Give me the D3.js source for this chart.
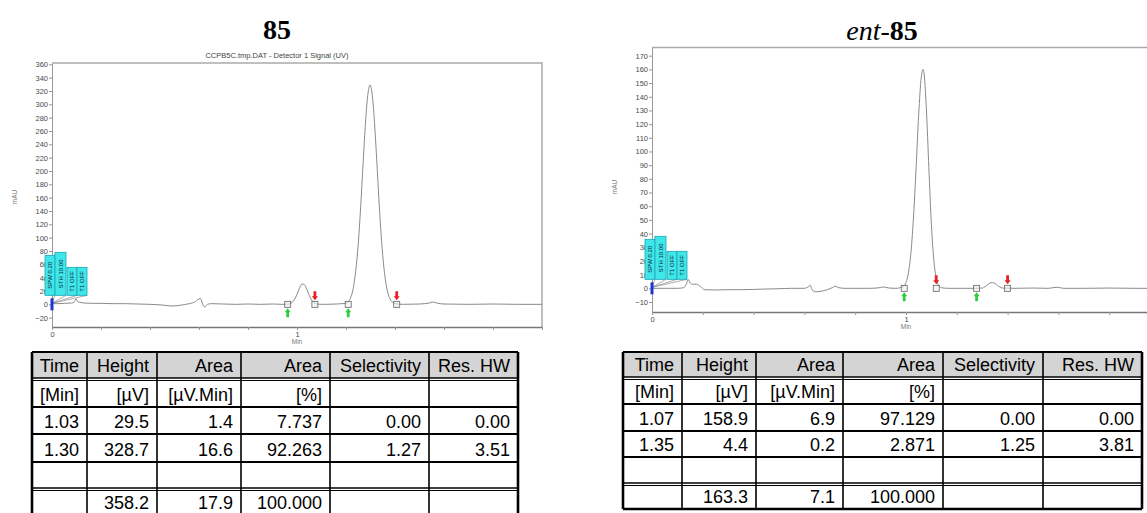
<!DOCTYPE html>
<html>
<head>
<meta charset="utf-8">
<script src="https://cdn.jsdelivr.net/npm/d3@7"></script>
<style>
  body { margin: 0; background: #fff; }
  svg { display: block; }
</style>
</head>
<body>
<div id="page"></div>
<script>
// traces: [time (min), signal (mAU)]
const trace85 = [
  [0, 1], [0.02, 1], [0.05, 1.5], [0.08, 2], [0.09, 3], [0.098, 8.5], [0.105, 4], [0.114, 3],
  [0.13, 2], [0.16, 1.5], [0.2, 1.5], [0.25, 1], [0.3, 1], [0.35, 0.5], [0.4, 0], [0.45, -1],
  [0.49, -2.5], [0.53, -1], [0.56, 1], [0.585, 4], [0.595, 7], [0.607, 8.5], [0.615, 0],
  [0.622, -4], [0.635, 0], [0.65, 1], [0.7, 0.5], [0.75, 0], [0.8, 0.5], [0.85, 0], [0.9, 0.5],
  [0.94, 0], [0.96, 0.2], [0.97, 0.8], [0.98, 2.8], [0.99, 7.3], [1.00, 15], [1.01, 24],
  [1.02, 30.4], [1.03, 29.6], [1.04, 22.5], [1.05, 13.3], [1.06, 6.1], [1.07, 2.2], [1.08, 0.6],
  [1.09, 0.1], [1.12, 0], [1.16, 0.5], [1.20, 1.6], [1.22, 11], [1.23, 25], [1.24, 51],
  [1.25, 91], [1.26, 147], [1.27, 213], [1.28, 275], [1.29, 317], [1.298, 329], [1.31, 304],
  [1.32, 251], [1.33, 186], [1.34, 123], [1.35, 73], [1.36, 39], [1.37, 18.5], [1.38, 8],
  [1.39, 3], [1.40, 1], [1.43, 0], [1.5, 0.5], [1.54, 2], [1.555, 3.5], [1.57, 2], [1.6, 0.5],
  [1.7, 0], [1.8, 0.5], [1.9, 0], [2.0, 0]
];
const traceEnt85 = [
  [0, 0], [0.05, 0], [0.1, 0], [0.125, 0.5], [0.135, 3], [0.143, 6.4], [0.15, 4], [0.16, 3],
  [0.175, 3], [0.19, 1.5], [0.206, -1], [0.25, -1.2], [0.3, -1], [0.35, -1], [0.4, -0.8],
  [0.45, -0.5], [0.5, -0.3], [0.55, 0], [0.6, 0], [0.615, 1], [0.623, 2.2], [0.63, -1],
  [0.645, -2.5], [0.67, -2], [0.69, -1], [0.71, 0.5], [0.722, 1.5], [0.735, 0.5], [0.76, 0],
  [0.8, 0], [0.85, 0], [0.89, 0.3], [0.912, 1], [0.93, 0.3], [0.96, 0], [0.99, 1.4], [1.00, 4.4],
  [1.01, 11.9], [1.02, 27.3], [1.03, 53.5], [1.04, 89], [1.05, 127], [1.06, 154], [1.067, 160],
  [1.07, 158.4], [1.08, 132], [1.09, 88], [1.10, 46.6], [1.11, 19.7], [1.12, 6.6], [1.13, 1.8],
  [1.14, 0.4], [1.17, 0], [1.22, 0], [1.27, 0], [1.30, 0.2], [1.31, 1], [1.32, 2.5], [1.33, 3.8],
  [1.34, 4.2], [1.35, 3.6], [1.36, 2.2], [1.37, 0.9], [1.38, 0.2], [1.42, 0], [1.5, 0.2],
  [1.56, 0], [1.594, 0.8], [1.62, 0], [1.7, 0], [1.8, 0.2], [1.9, 0], [2.0, 0]
];

// integration start / end marks (min)
const starts85 = [0.962, 1.209];
const ends85 = [1.073, 1.407];
const startsEnt85 = [0.993, 1.278];
const endsEnt85 = [1.119, 1.400];

const yTicks85 = [-20, 0, 20, 40, 60, 80, 100, 120, 140, 160, 180, 200, 220, 240, 260, 280, 300, 320, 340, 360];
const yTicksEnt85 = [-10, 0, 10, 20, 30, 40, 50, 60, 70, 80, 90, 100, 110, 120, 130, 140, 150, 160, 170];
const xTicks = [0, 0.2, 0.4, 0.6, 0.8, 1, 1.2, 1.4, 1.6, 1.8, 2];
const xLabels = [0, 1];
const eventLabels = ["SPW 0.20", "STH 10.00", "T1 OFF", "T1 OFF"];

// peak tables
const headers = ["Time", "Height", "Area", "Area", "Selectivity", "Res. HW"];
const units = ["[Min]", "[µV]", "[µV.Min]", "[%]", "", ""];
const rows85 = [
  ["1.03", "29.5", "1.4", "7.737", "0.00", "0.00"],
  ["1.30", "328.7", "16.6", "92.263", "1.27", "3.51"]
];
const total85 = ["", "358.2", "17.9", "100.000", "", ""];
const rowsEnt85 = [
  ["1.07", "158.9", "6.9", "97.129", "0.00", "0.00"],
  ["1.35", "4.4", "0.2", "2.871", "1.25", "3.81"]
];
const totalEnt85 = ["", "163.3", "7.1", "100.000", "", ""];

const sans = "'Liberation Sans', Arial, sans-serif";
const serif = "'Liberation Serif', 'Times New Roman', serif";

const svg = d3.select("#page").append("svg").attr("width", 1147).attr("height", 513);

function chromatogram(cfg) {
  const x = d3.scaleLinear().domain([0, 2]).range([cfg.left, cfg.right]);
  const y = d3.scaleLinear().domain(cfg.yDomain).range([cfg.bottom, cfg.top]);
  const g = svg.append("g");

  g.append("path")
      .attr("d", `M${cfg.left},${cfg.top}H${cfg.right}V${cfg.bottom}`)
      .attr("fill", "none").attr("stroke", "#aaa").attr("stroke-width", 1.5);

  const yAxis = g.append("g").attr("transform", `translate(${cfg.left},0)`)
      .call(d3.axisLeft(y).tickValues(cfg.yTicks).tickSize(3).tickPadding(1).tickSizeOuter(0))
      .attr("font-size", 7.5).attr("font-family", sans);
  yAxis.select(".domain").attr("stroke", "#999");
  yAxis.selectAll(".tick line").attr("stroke", "#999");
  yAxis.selectAll(".tick text").attr("fill", "#4a4a4a");

  const xAxis = g.append("g").attr("transform", `translate(0,${cfg.bottom})`)
      .call(d3.axisBottom(x).tickValues(xTicks).tickSize(3).tickPadding(2).tickSizeOuter(0)
        .tickFormat(d => xLabels.includes(d) ? d : ""))
      .attr("font-size", 7.5).attr("font-family", sans);
  xAxis.select(".domain").attr("stroke", "#777").attr("stroke-width", 1.3);
  xAxis.selectAll(".tick line").attr("stroke", "#999");
  xAxis.selectAll(".tick text").attr("fill", "#4a4a4a");

  g.append("text").attr("x", x(1)).attr("y", cfg.bottom + 17)
      .attr("text-anchor", "middle").attr("font-size", 6.5).attr("font-family", sans)
      .attr("fill", "#777").text("Min");
  g.append("text").attr("transform", `translate(${cfg.left - 35},${cfg.mauY}) rotate(-90)`)
      .attr("text-anchor", "middle").attr("font-size", 6.5).attr("font-family", sans)
      .attr("fill", "#777").text("mAU");
  if (cfg.title) {
    g.append("text").attr("x", cfg.titleX).attr("y", cfg.top - 5)
        .attr("text-anchor", "middle").attr("font-size", 7.5).attr("font-family", sans)
        .attr("fill", "#444").text(cfg.title);
  }

  const line = d3.line().x(d => x(d[0])).y(d => y(d[1])).curve(d3.curveMonotoneX);
  g.append("path").datum(cfg.trace).attr("d", line)
      .attr("fill", "none").attr("stroke", "#8a8a8a").attr("stroke-width", 1);

  // event boxes at the origin
  const ox = x(0), oy = y(0);
  const boxes = [[-7, 3, -49], [3, 14, -52], [15, 25, -37], [25, 35, -37]];
  boxes.forEach((b, i) => {
    g.append("line").attr("x1", ox).attr("y1", oy - 1).attr("x2", ox + b[1]).attr("y2", oy - 9)
        .attr("stroke", "#777").attr("stroke-width", 0.6);
  });
  boxes.forEach((b, i) => {
    g.append("rect").attr("x", ox + b[0]).attr("y", oy + b[2])
        .attr("width", b[1] - b[0]).attr("height", -9 - b[2])
        .attr("fill", "#3fe6ea").attr("stroke", "#1aa8b2").attr("stroke-width", 0.8);
    g.append("text")
        .attr("transform", `translate(${ox + (b[0] + b[1]) / 2 + 2.2},${oy + (b[2] - 9) / 2}) rotate(-90)`)
        .attr("text-anchor", "middle").attr("font-size", 6).attr("font-family", sans)
        .attr("fill", "#123").text(eventLabels[i]);
  });
  g.append("rect").attr("x", ox - 1.5).attr("y", oy - 6).attr("width", 3).attr("height", 12)
      .attr("fill", "#2233dd");

  // integration marks
  const marks = g.selectAll(".mark")
      .data(cfg.starts.map(t => ({ t, kind: "start" })).concat(cfg.ends.map(t => ({ t, kind: "end" }))))
      .enter().append("g")
      .attr("transform", d => `translate(${x(d.t)},${y(0)})`);
  marks.append("path")
      .attr("d", d => d.kind == "start"
        ? "M-1.4,13V8H-3L0,4L3,8H1.4V13Z"
        : "M-1.4,-13V-8H-3L0,-4L3,-8H1.4V-13Z")
      .attr("fill", d => d.kind == "start" ? "#2ecc40" : "#e8202a");
  marks.append("rect").attr("x", -3).attr("y", -3).attr("width", 6).attr("height", 6)
      .attr("fill", "#eee").attr("fill-opacity", 0.6).attr("stroke", "#666").attr("stroke-width", 0.8);
}

function peakTable(cfg) {
  const g = svg.append("g").attr("font-family", sans).attr("font-size", 18).attr("fill", "#000");
  const cols = cfg.cols;
  const r = cfg.rows;
  const left = cols[0], right = cols[cols.length - 1];
  const lines = [headers, units].concat(cfg.body).concat([new Array(6).fill("")], [cfg.total]);

  g.append("rect").attr("x", left).attr("y", r[0][0]).attr("width", right - left)
      .attr("height", r[0][1] - r[0][0]).attr("fill", "#d4d4d4");

  lines.forEach((cells, i) => {
    cells.forEach((c, j) => {
      if (c === "") return;
      // last row keeps its text inside the page
      const base = Math.min(r[i][1] - 6, 508.5);
      g.append("text").attr("x", cols[j + 1] - 8).attr("y", base)
          .attr("text-anchor", "end").text(c);
    });
  });

  const hline = (yy, w) => g.append("line").attr("x1", left).attr("x2", right)
      .attr("y1", yy).attr("y2", yy).attr("stroke", "#000").attr("stroke-width", w);
  hline(r[0][0], 2);
  hline(r[0][1], 1.6); hline(r[1][0] - 0.5, 1.2);
  hline(r[2][0], 1.8); hline(r[3][0], 1.8); hline(r[4][0], 1.8);
  hline(r[4][1], 1.6); hline(r[5][0] - 0.5, 1.2);
  hline(r[5][1], 2.5);

  cols.forEach((cx, j) => {
    g.append("line").attr("x1", cx).attr("x2", cx).attr("y1", r[0][0]).attr("y2", r[5][1])
        .attr("stroke", "#000").attr("stroke-width", j == 0 || j == cols.length - 1 ? 2.6 : 1.6);
  });
}

// compound titles
svg.append("text").attr("x", 277).attr("y", 39).attr("text-anchor", "middle")
    .attr("font-family", serif).attr("font-size", 28).attr("font-weight", "bold").text("85");
const entTitle = svg.append("text").attr("x", 882).attr("y", 40).attr("text-anchor", "middle")
    .attr("font-family", serif).attr("font-size", 28);
entTitle.append("tspan").attr("font-style", "italic").text("ent");
entTitle.append("tspan").text("-");
entTitle.append("tspan").attr("font-weight", "bold").text("85");

chromatogram({
  left: 52, right: 542, top: 63, bottom: 327, yDomain: [-34, 362],
  yTicks: yTicks85, trace: trace85, starts: starts85, ends: ends85,
  title: "CCPB5C.tmp.DAT - Detector 1 Signal (UV)", titleX: 277, mauY: 197
});
chromatogram({
  left: 652, right: 1160, top: 47.5, bottom: 312, yDomain: [-17.3, 176],
  yTicks: yTicksEnt85, trace: traceEnt85, starts: startsEnt85, ends: endsEnt85,
  mauY: 187
});

peakTable({
  cols: [32, 87, 157, 241, 330, 429, 518],
  rows: [[352, 378], [381, 407], [407, 434], [434, 462], [462, 488], [491, 517]],
  body: rows85, total: total85
});
peakTable({
  cols: [623, 682, 756, 843, 943, 1043, 1142],
  rows: [[352, 377], [380, 404], [404, 431], [431, 457], [457, 483], [486, 509]],
  body: rowsEnt85, total: totalEnt85
});
</script>
</body>
</html>
